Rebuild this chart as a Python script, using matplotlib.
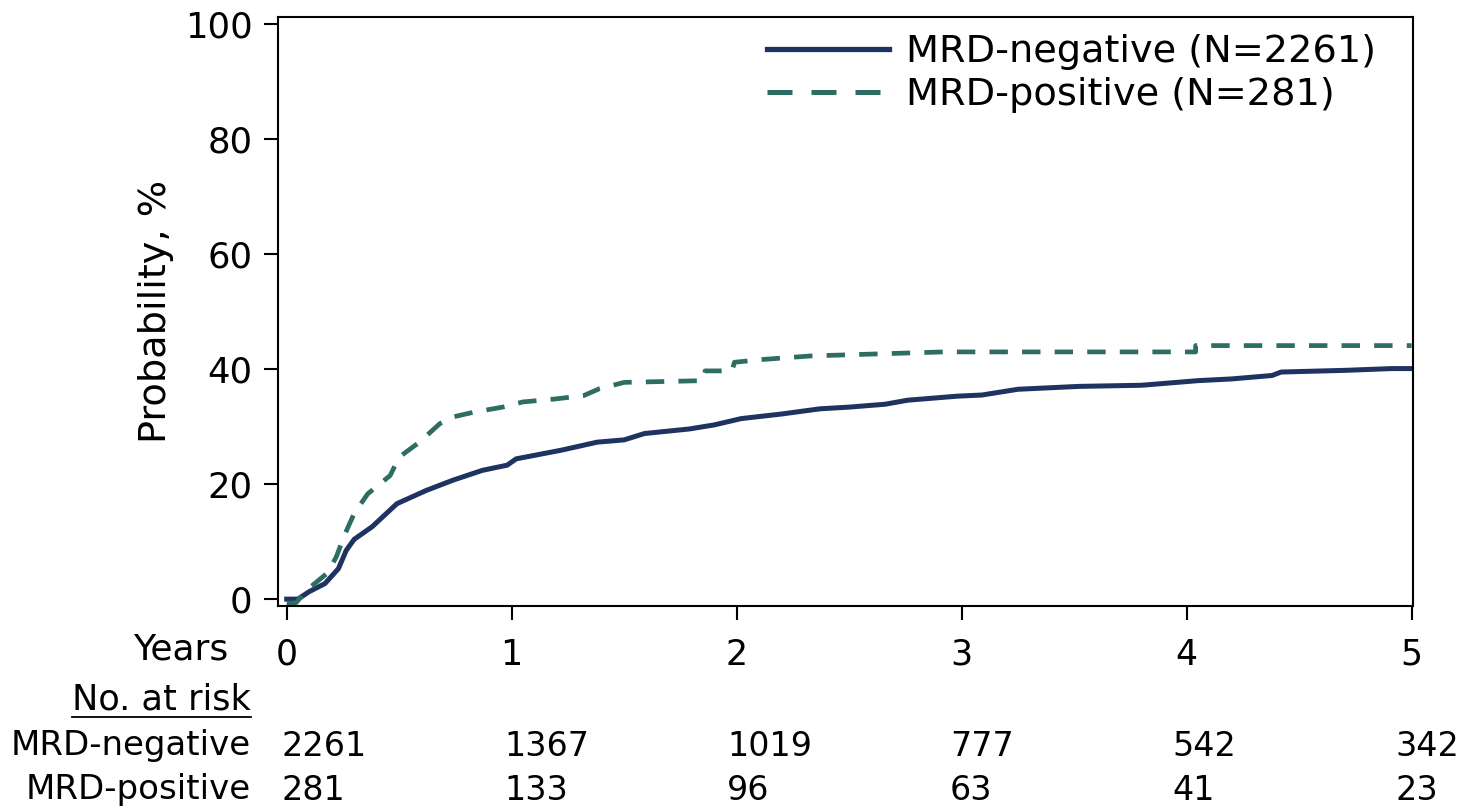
import matplotlib
matplotlib.use("Agg")
from matplotlib import pyplot as plt
from matplotlib.lines import Line2D
from matplotlib.transforms import blended_transform_factory

plt.rcParams['font.family'] = ['DejaVu Sans']

# cumulative incidence
t_neg = [0, 0.05, 0.1, 0.17, 0.23, 0.265, 0.3, 0.38, 0.49, 0.62, 0.74, 0.87, 0.98, 1.02, 1.1,
         1.22, 1.38, 1.5, 1.59, 1.79, 1.9, 2.02, 2.2, 2.37, 2.5, 2.66, 2.76, 2.98, 3.09, 3.25,
         3.52, 3.8, 4.05, 4.2, 4.38, 4.42, 4.71, 4.91, 5.0]
p_neg = [0, 0, 1.3, 2.7, 5.3, 8.5, 10.4, 12.6, 16.6, 18.9, 20.7, 22.4, 23.3, 24.4, 25.0,
         25.9, 27.3, 27.7, 28.8, 29.6, 30.3, 31.4, 32.2, 33.1, 33.4, 33.9, 34.6, 35.3, 35.5, 36.5,
         37.0, 37.2, 38.0, 38.3, 38.9, 39.5, 39.8, 40.1, 40.1]

t_pos = [0, 0.04, 0.09, 0.18, 0.22, 0.26, 0.30, 0.36, 0.46, 0.50, 0.59, 0.68, 0.74, 0.83, 0.96,
         1.05, 1.19, 1.32, 1.39, 1.5, 1.85, 1.86, 1.98, 1.99, 2.12, 2.33, 2.92, 4.04, 4.04, 5.0]
p_pos = [-0.7, -0.7, 1.6, 4.5, 7.3, 11.4, 14.9, 18.3, 21.5, 24.7, 27.3, 30.5, 31.7, 32.5, 33.4,
         34.3, 34.8, 35.4, 36.6, 37.7, 38.0, 39.7, 39.7, 41.2, 41.7, 42.3, 43.0, 43.0, 44.1, 44.1]

years = [0, 1, 2, 3, 4, 5]
risk_neg = [2261, 1367, 1019, 777, 542, 342]
risk_pos = [281, 133, 96, 63, 41, 23]

navy = '#1f3361'
teal = '#2e6d63'

fig = plt.figure(figsize=(14.63, 8.09), dpi=100)
ax = fig.add_axes([0.1898, 0.2509, 0.9658 - 0.1898, 0.9786 - 0.2509])

ax.plot(t_neg, p_neg, color=navy, lw=3.6)
ax.plot(t_pos, p_pos, color=teal, lw=3.4, linestyle=(0, (3.9, 3.0)))

ax.set_xlim(-0.04, 5.006)
ax.set_ylim(-1.2, 101.2)
ax.set_yticks([0, 20, 40, 60, 80, 100])
ax.set_xticks(years)
for s in ax.spines.values():
    s.set_linewidth(1.5)
ax.tick_params(axis='both', length=10, width=1.5, direction='out')
ax.tick_params(axis='y', labelsize=25.5, pad=8)
ax.tick_params(axis='x', labelsize=25, pad=13)
ax.set_ylabel('Probability, %', fontsize=27.5, labelpad=8)

handles = [Line2D([], [], color=navy, lw=3.8),
           Line2D([], [], color=teal, lw=3.6, linestyle=(0, (5.0, 3.8)))]
ax.legend(handles, ['MRD-negative (N=2261)', 'MRD-positive (N=281)'],
          loc='upper right', bbox_to_anchor=(1376 / 1463, 1 - 34 / 809),
          bbox_transform=fig.transFigure, frameon=False, fontsize=27.5,
          handlelength=3.2, handletextpad=0.45, labelspacing=0.18, borderpad=0, borderaxespad=0)

# number at risk table
def fy(py):
    return 1 - py / 809

fig.text(228 / 1463, fy(650), 'Years', fontsize=26, ha='right', va='center')
nar = fig.text(251 / 1463, fy(700), 'No. at risk', fontsize=25.3, ha='right', va='center')
fig.text(251 / 1463, fy(746), 'MRD-negative', fontsize=24.5, ha='right', va='center')
fig.text(251 / 1463, fy(790), 'MRD-positive', fontsize=24.5, ha='right', va='center')

tr = blended_transform_factory(ax.transData, fig.transFigure)
for x, n1, n2 in zip(years, risk_neg, risk_pos):
    xt = -0.022 + 0.99 * x
    ax.text(xt, fy(746), str(n1), fontsize=24, ha='left', va='center', transform=tr, clip_on=False)
    ax.text(xt, fy(790), str(n2), fontsize=24, ha='left', va='center', transform=tr, clip_on=False)

# underline "No. at risk"
fig.canvas.draw()
bb = nar.get_window_extent(fig.canvas.get_renderer()).transformed(fig.transFigure.inverted())
fig.add_artist(Line2D([bb.x0, bb.x1], [fy(717), fy(717)], color='black', lw=1.3, transform=fig.transFigure))

plt.savefig('out.png', dpi=100)
